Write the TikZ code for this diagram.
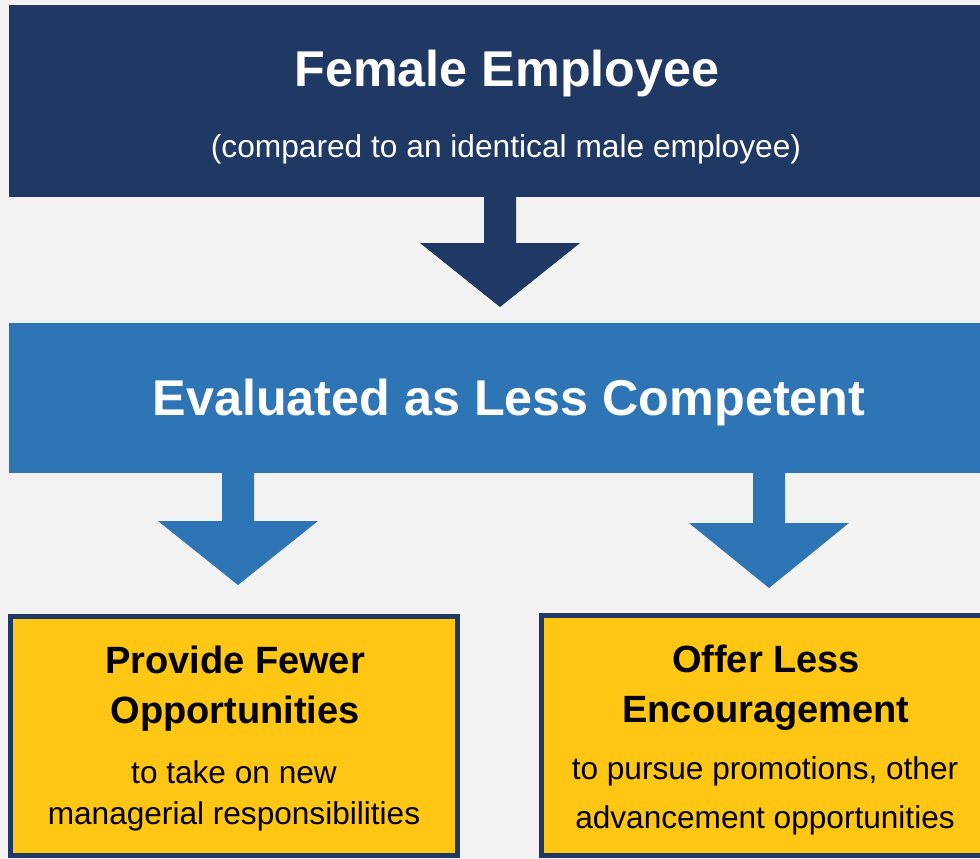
\documentclass[tikz,border=0pt]{standalone}
\usepackage{fontspec}
\setmainfont{Liberation Sans}
\definecolor{navyblue}{HTML}{1F3864}
\definecolor{midblue}{HTML}{2E75B6}
\definecolor{goldfill}{HTML}{FFC613}
\definecolor{paper}{HTML}{F2F2F2}
\tikzset{
  band/.style={inner sep=0pt, outer sep=0pt},
  goldbox/.style={fill=goldfill, draw=navyblue, line width=5pt, inner sep=0pt, outer sep=0pt},
  titletext/.style={anchor=base, text=white, font=\fontsize{50.3}{60}\selectfont\bfseries, inner sep=0pt},
  subtext/.style={anchor=base, text=white, font=\fontsize{31.7}{38}\selectfont, inner sep=0pt},
  headtext/.style={anchor=base, text=black, font=\fontsize{38}{45}\selectfont\bfseries, inner sep=0pt},
  bodytext/.style={anchor=base, text=black, font=\fontsize{31.6}{38}\selectfont, inner sep=0pt},
  pics/downarrow/.style n args={3}{code={
    % #1 fill colour, #2 depth of the head base, #3 depth of the tip
    \fill[#1] (-16,0) -- (-16,#2) -- (-80,#2) -- (0,#3) -- (80,#2) -- (16,#2) -- (16,0) -- cycle;
  }},
}
\begin{document}
\begin{tikzpicture}[x=1pt, y=-1pt]
  \fill[paper] (0,0) rectangle (980,859);
  \useasboundingbox (0,0) rectangle (980,859);

  % header band
  \node[band, fill=navyblue, minimum width=980pt, minimum height=192pt] (emp) at (499,101) {};
  \node[titletext] (empT) at (507,86) {Female Employee};
  \node[subtext] (empS) at (506,157) {(compared to an identical male employee)};

  % evaluation band
  \node[band, fill=midblue, minimum width=980pt, minimum height=150pt] (eval) at (499,398) {};
  \node[titletext] (evalT) at (509,415) {Evaluated as Less Competent};

  % consequence boxes
  \node[goldbox, minimum width=447pt, minimum height=239pt] (fewer) at (234,736) {};
  \node[headtext] (fewerA) at (235,673) {Provide Fewer};
  \node[headtext] (fewerB) at (235,723) {Opportunities};
  \node[bodytext] (fewerC) at (234,783) {to take on new};
  \node[bodytext] (fewerD) at (234,824) {managerial responsibilities};

  \node[goldbox, minimum width=449pt, minimum height=240pt] (less) at (766,735.5) {};
  \node[headtext] (lessA) at (766,672) {Offer Less};
  \node[headtext] (lessB) at (766,722) {Encouragement};
  \node[bodytext] (lessC) at (765,779) {to pursue promotions, other};
  \node[bodytext] (lessD) at (765,828) {advancement opportunities};

  % block arrows between the bands and boxes
  \pic at (500,197) {downarrow={navyblue}{46}{110}};
  \pic at (238,473) {downarrow={midblue}{48}{112}};
  \pic at (769,473) {downarrow={midblue}{50}{115}};
\end{tikzpicture}
\end{document}
